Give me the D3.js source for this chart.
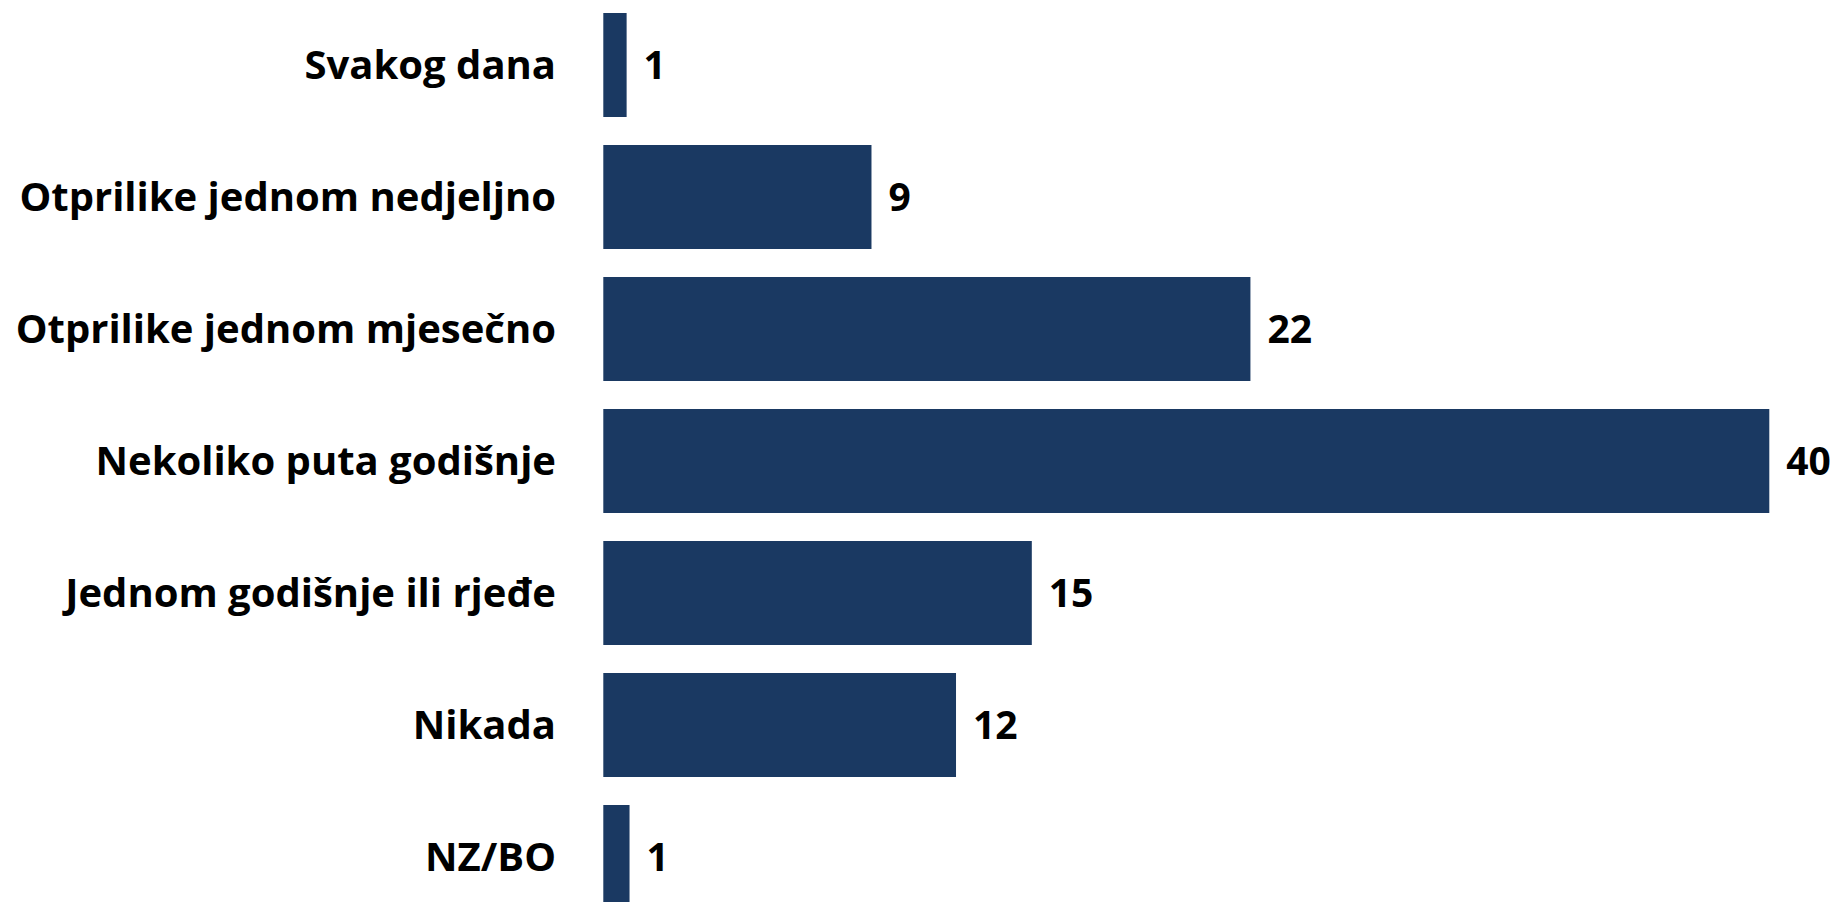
<!DOCTYPE html>
<html>
<head>
<meta charset="utf-8">
<script src="https://cdn.jsdelivr.net/npm/d3@7"></script>
<style>
  html, body { margin: 0; padding: 0; background: #fff; }
  svg { display: block; }
  .cat { font-family: "Open Sans", Lato, sans-serif; font-weight: 700; font-size: 40px; fill: #000; }
  .val { font-family: "Open Sans", Lato, sans-serif; font-weight: 700; font-size: 39px; fill: #000; }
</style>
</head>
<body>
<div id="chart"></div>
<script>
const categories = [
  'Svakog dana',
  'Otprilike jednom nedjeljno',
  'Otprilike jednom mjesečno',
  'Nekoliko puta godišnje',
  'Jednom godišnje ili rjeđe',
  'Nikada',
  'NZ/BO'
]
const values = [0.8, 9.2, 22.2, 40.0, 14.7, 12.1, 0.9]

const width = 1838
const height = 902
const barColor = '#1a3962'

const svg = d3.select('#chart')
  .append('svg')
  .attr('width', width)
  .attr('height', height)

const x = d3.scaleLinear()
  .domain([0, 40])
  .range([603.3, 1769.3])

const y = d3.scaleBand()
  .domain(categories)
  .range([-1, 923])
  .paddingInner(28 / 132)
  .paddingOuter(14 / 132)

const rows = categories.map((c, i) => ({ cat: c, value: values[i] }))

svg.selectAll('.bar')
  .data(rows)
  .enter()
  .append('rect')
  .attr('class', 'bar')
  .attr('x', x(0))
  .attr('y', d => y(d.cat))
  .attr('width', d => x(d.value) - x(0))
  .attr('height', y.bandwidth())
  .attr('fill', barColor)

svg.selectAll('.cat')
  .data(rows)
  .enter()
  .append('text')
  .attr('class', 'cat')
  .attr('x', 556)
  .attr('y', d => y(d.cat) + y.bandwidth() / 2)
  .attr('dy', '0.36em')
  .attr('text-anchor', 'end')
  .text(d => d.cat)

const fmt = d3.format('.0f')

svg.selectAll('.val')
  .data(rows)
  .enter()
  .append('text')
  .attr('class', 'val')
  .attr('x', d => x(d.value) + 17)
  .attr('y', d => y(d.cat) + y.bandwidth() / 2)
  .attr('dy', '0.36em')
  .text(d => fmt(d.value))
</script>
</body>
</html>
